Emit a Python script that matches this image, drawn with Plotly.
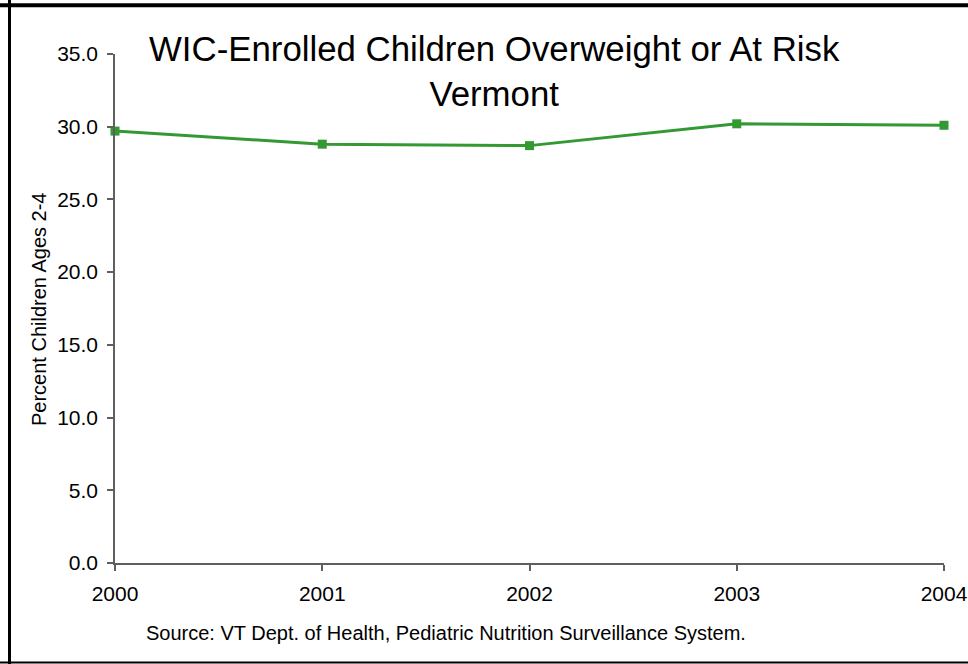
import plotly.graph_objects as go

# Vermont WIC children ages 2-4, percent overweight or at risk
years = [2000, 2001, 2002, 2003, 2004]
percent = [29.7, 28.8, 28.7, 30.2, 30.1]
y_ticks = [0, 5, 10, 15, 20, 25, 30, 35]

W, H = 968, 664
L, R, T, B = 115, 24, 54, 101
pw, ph = W - L - R, H - T - B


def px_x(x):
    return (x - L) / pw


def px_y(y):
    return (H - B - y) / ph


green = "#339933"
axis_col = "#5f5f5f"
font = "Liberation Sans, Arial, sans-serif"

fig = go.Figure()
fig.add_trace(go.Scatter(
    x=years, y=percent, mode="lines+markers",
    line=dict(color=green, width=3),
    marker=dict(symbol="square", size=9, color=green),
    cliponaxis=False, showlegend=False,
))

fig.update_layout(
    width=W, height=H,
    margin=dict(l=L, r=R, t=T, b=B, autoexpand=False),
    paper_bgcolor="white", plot_bgcolor="white",
    font=dict(family=font, color="black"),
    xaxis=dict(
        range=[2000, 2004], tickmode="array", tickvals=years,
        ticktext=[str(y) for y in years],
        showgrid=False, zeroline=False, showline=True,
        linecolor=axis_col, linewidth=1.5,
        ticks="outside", ticklen=6, tickcolor=axis_col, tickwidth=1.5,
        tickfont=dict(size=21, family=font, color="black"),
        ticklabelstandoff=5,
    ),
    yaxis=dict(
        range=[0, 35], tickmode="array", tickvals=y_ticks,
        ticktext=[f"{v:.1f}" for v in y_ticks],
        showgrid=False, zeroline=False, showline=True,
        linecolor=axis_col, linewidth=1.5,
        ticks="outside", ticklen=6, tickcolor=axis_col, tickwidth=1.5,
        tickfont=dict(size=21, family=font, color="black"),
        ticklabelstandoff=5,
    ),
)

# chart title
fig.add_annotation(
    text="WIC-Enrolled Children Overweight or At Risk<br>Vermont",
    xref="paper", yref="paper", x=px_x(494), y=px_y(27),
    xanchor="center", yanchor="top", showarrow=False,
    font=dict(size=34.8, family=font, color="black"),
)

# y-axis title
fig.add_annotation(
    text="Percent Children Ages 2-4", textangle=-90,
    xref="paper", yref="paper", x=px_x(39), y=px_y(310),
    xanchor="center", yanchor="middle", showarrow=False,
    font=dict(size=20, family=font, color="black"),
)

# source note
fig.add_annotation(
    text="Source: VT Dept. of Health, Pediatric Nutrition Surveillance System.",
    xref="paper", yref="paper", x=px_x(446), y=px_y(633),
    xanchor="center", yanchor="middle", showarrow=False,
    font=dict(size=20, family=font, color="black"),
)

# outer frame
frame = [
    (px_x(0), px_y(5.3), px_x(W + 5), px_y(5.3), 4),
    (px_x(9.5), px_y(0), px_x(9.5), px_y(H + 5), 3),
    (px_x(0), px_y(662.5), px_x(W + 5), px_y(662.5), 2),
]
for x0, y0, x1, y1, w in frame:
    fig.add_shape(type="line", xref="paper", yref="paper",
                  x0=x0, y0=y0, x1=x1, y1=y1,
                  line=dict(color="black", width=w))

fig.write_html("out.html")
